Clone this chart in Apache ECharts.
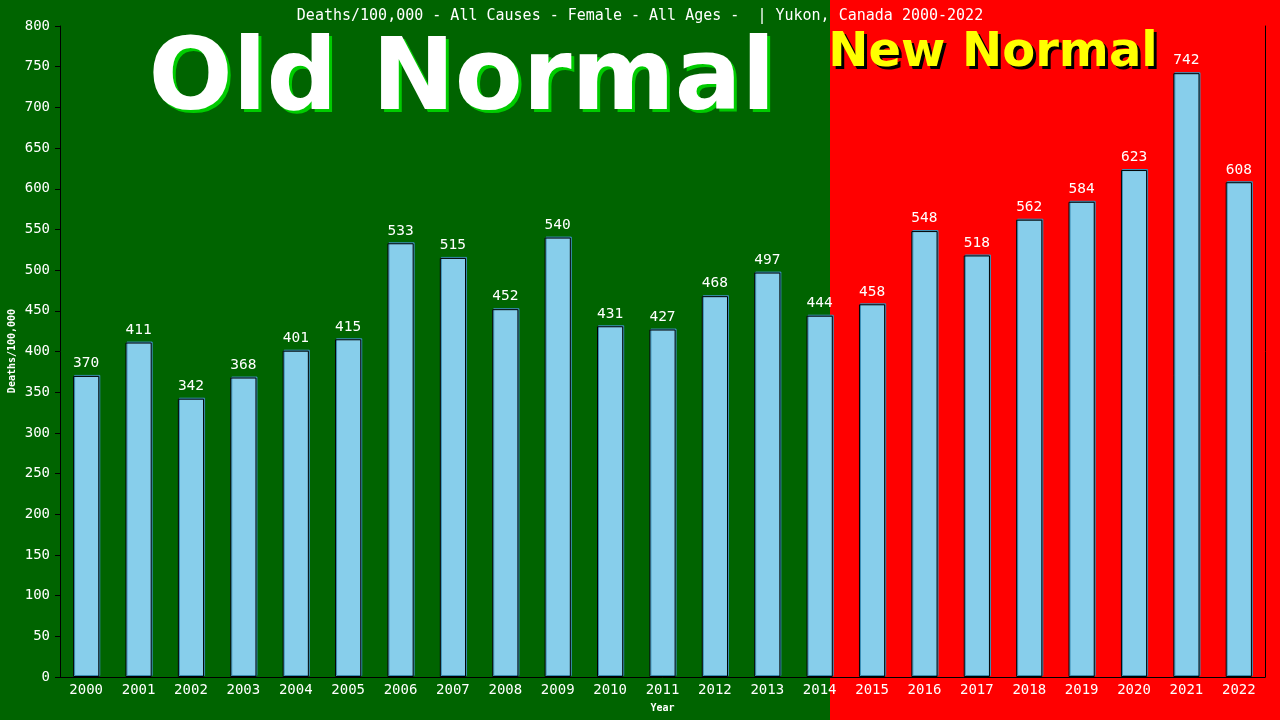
<!DOCTYPE html>
<html>
<head>
<meta charset="utf-8">
<script src="https://cdn.jsdelivr.net/npm/echarts@6/dist/echarts.min.js"></script>
<style>
  html, body { margin: 0; padding: 0; background: #006400; }
  #chart { width: 1280px; height: 720px; }
</style>
</head>
<body>
<div id="chart"></div>
<script>
// Data
const years = ['2000', '2001', '2002', '2003', '2004', '2005', '2006', '2007', '2008', '2009', '2010', '2011',
  '2012', '2013', '2014', '2015', '2016', '2017', '2018', '2019', '2020', '2021', '2022'];
const deaths = [370, 411, 342, 368, 401, 415, 533, 515, 452, 540, 431, 427,
  468, 497, 444, 458, 548, 518, 562, 584, 623, 742, 608];

const titleText = 'Deaths/100,000 - All Causes - Female - All Ages -  | Yukon, Canada 2000-2022';
const yName = 'Deaths/100,000';
const mono = '"DejaVu Sans Mono", monospace';

// big banner text with a hard drop shadow (drawn as two layers)
function banner(text, x, y, font, color, shadow, off) {
  return [
    { type: 'text', x: x + off, y: y + off, z: 1,
      style: { text: text, fill: shadow, align: 'center', verticalAlign: 'bottom', font: font } },
    { type: 'text', x: x, y: y, z: 2,
      style: { text: text, fill: color, align: 'center', verticalAlign: 'bottom', font: font } }
  ];
}

const chart = echarts.init(document.getElementById('chart'));

const option = {
  animation: false,
  backgroundColor: '#006400',
  title: {
    text: titleText,
    left: 'center',
    top: 4,
    textStyle: { color: '#fff', fontFamily: mono, fontSize: 15, fontWeight: 'normal' }
  },
  // split background, the two big labels, y axis title
  graphic: [
    { type: 'rect', left: 830, top: 0, z: -10, shape: { width: 450, height: 720 }, style: { fill: '#ff0000' } },
    { type: 'text', x: 12, y: 351, rotation: Math.PI / 2, z: 5,
      style: { text: yName, fill: '#fff', align: 'center', verticalAlign: 'middle',
        font: 'bold 10px "DejaVu Sans Mono"' } }
  ].concat(
    banner('Old Normal', 462, 133, 'bold 99px "DejaVu Sans"', '#ffffff', '#00cc00', 3),
    banner('New Normal', 993, 78, 'bold 48px "DejaVu Sans"', '#ffff00', '#000000', 3)
  ),
  grid: { left: 60, right: 15, top: 26, bottom: 43, outerBoundsMode: 'none' },
  xAxis: {
    type: 'category',
    data: years,
    name: 'Year',
    nameLocation: 'middle',
    nameGap: 26,
    nameTextStyle: { color: '#fff', fontFamily: mono, fontSize: 10, fontWeight: 'bold' },
    axisLine: { lineStyle: { color: '#000', width: 1 } },
    axisTick: { show: false },
    axisLabel: { color: '#fff', fontFamily: mono, fontSize: 14, margin: 6 }
  },
  yAxis: [
    {
      type: 'value',
      min: 0,
      max: 800,
      interval: 50,
      axisLine: { show: true, lineStyle: { color: '#000' } },
      axisTick: { show: true, length: 5, lineStyle: { color: '#000' } },
      axisLabel: { color: '#fff', fontFamily: mono, fontSize: 14, margin: 10 },
      splitLine: { show: false }
    },
    {
      type: 'value',
      position: 'right',
      min: 0,
      max: 800,
      axisLine: { show: true, lineStyle: { color: '#000' } },
      axisTick: { show: false },
      axisLabel: { show: false },
      splitLine: { show: false }
    }
  ],
  series: [
    {
      name: yName,
      type: 'bar',
      data: deaths,
      barWidth: '50%',
      itemStyle: {
        color: '#87ceeb',
        borderColor: '#000',
        borderWidth: 1,
        shadowColor: '#3a8fb5',
        shadowOffsetX: 1,
        shadowOffsetY: -1,
        shadowBlur: 0
      },
      label: {
        show: true,
        position: 'top',
        distance: 5,
        color: '#fff',
        fontFamily: mono,
        fontSize: 14.5
      }
    }
  ]
};

chart.setOption(option);
window.addEventListener('resize', () => chart.resize());
</script>
</body>
</html>
